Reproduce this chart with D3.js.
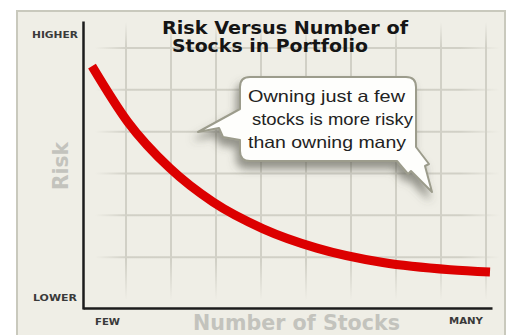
<!DOCTYPE html>
<html>
<head>
<meta charset="utf-8">
<script src="https://cdn.jsdelivr.net/npm/d3@7"></script>
<style>
  html, body { margin: 0; padding: 0; background: #ffffff; }
  svg { display: block; }
</style>
</head>
<body>
<script>
// Risk falls as the number of stocks held rises (0 = few, 100 = many)
const stockCount = [0, 9, 19.6, 30.4, 43, 56.5, 73.1, 90, 100];
const riskLevel  = [84, 64.6, 48.5, 36.8, 27.5, 20.8, 15.8, 13.3, 12.5];

const yTickLabels = ["LOWER", "HIGHER"];
const xTickLabels = ["FEW", "MANY"];
const titleLines = ["Risk Versus Number of", "Stocks in Portfolio"];
const calloutLines = ["Owning just a few", "stocks is more risky", "than owning many"];
const gridCols = d3.range(1, 10);
const gridRows = d3.range(1, 7);

const W = 507, H = 335;
const svg = d3.select("body").append("svg").attr("width", W).attr("height", H);
const defs = svg.append("defs");

// scales
const x = d3.scaleLinear().domain([0, 100]).range([92, 490]);
const y = d3.scaleLinear().domain([0, 100]).range([308, 20]);
const xAxisScale = d3.scaleLinear().domain([0, 1]).range([83, 492]);
const yAxisScale = d3.scaleLinear().domain([0, 1]).range([309, 21]);
const gx = d3.scaleLinear().domain([0, 9]).range([81, 486]);
const gy = d3.scaleLinear().domain([0, 6]).range([299, 48]);

// panel
svg.append("rect").attr("x", 17).attr("y", 11).attr("width", 488).attr("height", 330)
  .attr("fill", "#efeee6").attr("stroke", "#c9c9bd").attr("stroke-width", 2);

// soft-ended grid
function fade(id, x1, y1, x2, y2, stops) {
  const g = defs.append("linearGradient").attr("id", id)
    .attr("gradientUnits", "userSpaceOnUse")
    .attr("x1", x1).attr("y1", y1).attr("x2", x2).attr("y2", y2);
  stops.forEach(([o, a]) => g.append("stop").attr("offset", o)
    .attr("stop-color", "#d1d0c6").attr("stop-opacity", a));
}
fade("vfade", 0, 22, 0, 300, [[0, 0], [0.09, 1], [0.86, 1], [1, 0]]);
fade("hfade", 95, 0, 500, 0, [[0, 0], [0.08, 1], [0.9, 1], [1, 0]]);

svg.append("g").selectAll("line").data(gridCols).join("line")
  .attr("x1", d => gx(d)).attr("x2", d => gx(d))
  .attr("y1", 22).attr("y2", 300)
  .attr("stroke", "url(#vfade)").attr("stroke-width", 2);
svg.append("g").selectAll("line").data(gridRows).join("line")
  .attr("y1", d => gy(d)).attr("y2", d => gy(d))
  .attr("x1", 95).attr("x2", 500)
  .attr("stroke", "url(#hfade)").attr("stroke-width", 2);

// axes (lines only)
const yAxis = svg.append("g").attr("transform", "translate(83,0)")
  .call(d3.axisLeft(yAxisScale).tickValues([]).tickSizeOuter(0));
const xAxis = svg.append("g").attr("transform", "translate(0,308)")
  .call(d3.axisBottom(xAxisScale).tickValues([]).tickSizeOuter(0));
[yAxis, xAxis].forEach(a => a.select(".domain")
  .attr("stroke", "#1c1c1c").attr("stroke-width", 2.5));

// risk curve
const line = d3.line().x(d => x(d[0])).y(d => y(d[1])).curve(d3.curveMonotoneX);
svg.append("path")
  .datum(d3.zip(stockCount, riskLevel))
  .attr("d", line)
  .attr("fill", "none").attr("stroke", "#dc0000")
  .attr("stroke-width", 9).attr("stroke-linecap", "butt");

// small end labels
const small = { "font-family": "DejaVu Sans, Verdana, sans-serif", "font-weight": "bold",
  "font-size": 9.5, "fill": "#3a3a3a", "lengthAdjust": "spacingAndGlyphs" };
function label(txt, xx, yy, len, attrs) {
  const t = svg.append("text").attr("x", xx).attr("y", yy).text(txt)
    .attr("textLength", len);
  Object.entries(attrs).forEach(([k, v]) => t.attr(k, v));
  return t;
}
label(yTickLabels[1], 32, 37.5, 46, small);
label(yTickLabels[0], 33, 301, 44, small);
label(xTickLabels[0], 95, 325, 25, small);
label(xTickLabels[1], 449, 324, 34, small);

// axis titles
const big = { "font-family": "DejaVu Sans, Verdana, sans-serif", "font-weight": "bold",
  "fill": "#c3c3bd", "lengthAdjust": "spacingAndGlyphs" };
label("Number of Stocks", 193, 330, 207, Object.assign({ "font-size": 20.5 }, big));
label("Risk", 0, 0, 48, Object.assign({ "font-size": 21, "text-anchor": "middle",
  "transform": "translate(68,166) rotate(-90)" }, big));

// chart title
const ttl = { "font-family": "DejaVu Sans, Verdana, sans-serif", "font-weight": "bold",
  "font-size": 17, "fill": "#151515", "lengthAdjust": "spacingAndGlyphs" };
label(titleLines[0], 162, 33.5, 246, ttl);
label(titleLines[1], 172, 52, 196, ttl);

// callout bubble with two pointers
const shadow = defs.append("filter").attr("id", "shadow")
  .attr("x", "-20%").attr("y", "-20%").attr("width", "140%").attr("height", "150%");
shadow.append("feDropShadow").attr("dx", -3).attr("dy", 7).attr("stdDeviation", 4)
  .attr("flood-color", "#55554b").attr("flood-opacity", 0.6);

const bubble = d3.path();
bubble.moveTo(250, 77);
bubble.lineTo(406, 77);
bubble.quadraticCurveTo(416, 77, 416, 87);
bubble.lineTo(416, 147);
bubble.lineTo(429, 164);
bubble.lineTo(425, 166);
bubble.lineTo(432, 192);
bubble.lineTo(411, 171);
bubble.lineTo(408, 174);
bubble.lineTo(397, 161);
bubble.lineTo(250, 161);
bubble.quadraticCurveTo(240, 161, 240, 151);
bubble.lineTo(240, 140);
bubble.lineTo(223, 137);
bubble.lineTo(219, 128);
bubble.lineTo(198, 132);
bubble.lineTo(240, 109);
bubble.lineTo(240, 87);
bubble.quadraticCurveTo(240, 77, 250, 77);
bubble.closePath();

svg.append("path").attr("d", bubble.toString())
  .attr("fill", "#fefefc").attr("stroke", "#9c9c8c").attr("stroke-width", 2)
  .attr("stroke-linejoin", "round").attr("filter", "url(#shadow)");

const body = { "font-family": "Liberation Sans, Arial, sans-serif", "font-size": 16.5,
  "fill": "#222222", "lengthAdjust": "spacingAndGlyphs" };
const lineStarts = [248, 252, 248];
const lineEnds = [405, 413, 406];
calloutLines.forEach((t, i) =>
  label(t, lineStarts[i], 102 + i * 23, lineEnds[i] - lineStarts[i], body));
</script>
</body>
</html>
